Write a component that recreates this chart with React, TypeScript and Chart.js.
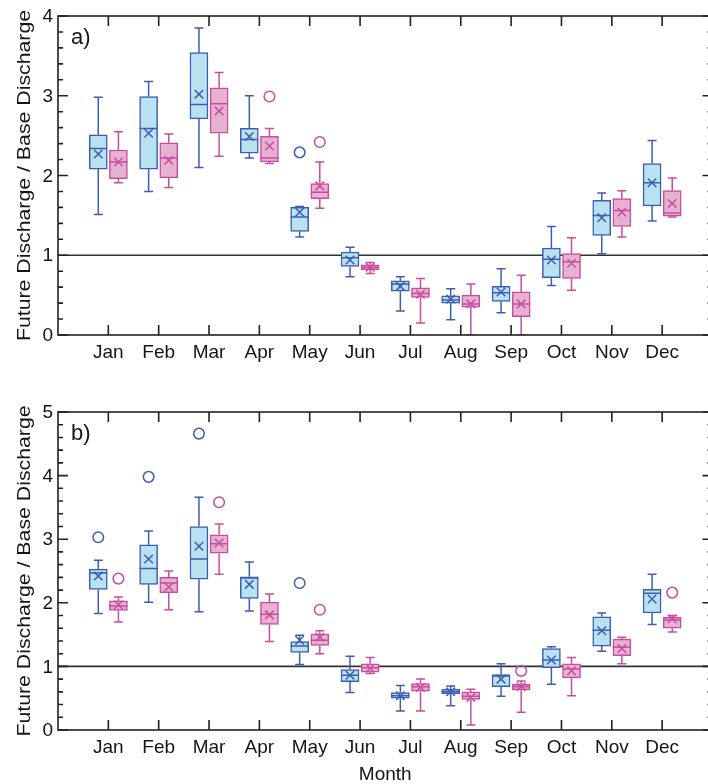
import React, { useEffect, useRef } from "react";
import { Chart, registerables } from "chart.js";
Chart.register(...registerables);

// ---------- categories / ticks ----------
const months = ["Jan", "Feb", "Mar", "Apr", "May", "Jun", "Jul", "Aug", "Sep", "Oct", "Nov", "Dec"];
const monthPos = [1, 2, 3, 4, 5, 6, 7, 8, 9, 10, 11, 12];
const yTicksA = [0, 1, 2, 3, 4];
const yTicksB = [0, 1, 2, 3, 4, 5];
const refLineValue = 1;

// ---------- panel a) blue ----------
const aBlueMin = [1.51, 1.8, 2.1, 2.22, 1.23, 0.73, 0.3, 0.19, 0.28, 0.62, 1.02, 1.43];
const aBlueQ1 = [2.08, 2.08, 2.71, 2.28, 1.3, 0.86, 0.55, 0.4, 0.42, 0.72, 1.25, 1.62];
const aBlueMed = [2.34, 2.59, 2.89, 2.45, 1.48, 0.97, 0.64, 0.44, 0.53, 0.95, 1.5, 1.91];
const aBlueQ3 = [2.51, 2.99, 3.54, 2.59, 1.6, 1.04, 0.68, 0.49, 0.61, 1.09, 1.69, 2.15];
const aBlueMax = [2.98, 3.18, 3.85, 3.0, 1.61, 1.1, 0.73, 0.58, 0.83, 1.36, 1.78, 2.44];
const aBlueMean = [2.27, 2.53, 3.02, 2.49, 1.54, 0.94, 0.61, 0.45, 0.54, 0.94, 1.47, 1.91];
const aBlueOutliers: [number, number][] = [[5, 2.29]];

// ---------- panel a) pink ----------
const aPinkMin = [1.91, 1.85, 2.24, 2.15, 1.59, 0.77, 0.15, 0.0, 0.0, 0.56, 1.23, 1.48];
const aPinkQ1 = [1.96, 1.97, 2.53, 2.17, 1.71, 0.82, 0.47, 0.35, 0.23, 0.71, 1.36, 1.49];
const aPinkMed = [2.17, 2.22, 2.9, 2.22, 1.79, 0.85, 0.52, 0.39, 0.39, 0.92, 1.56, 1.53];
const aPinkQ3 = [2.32, 2.41, 3.1, 2.49, 1.9, 0.88, 0.59, 0.5, 0.54, 1.02, 1.71, 1.81];
const aPinkMax = [2.55, 2.52, 3.29, 2.59, 2.17, 0.91, 0.71, 0.64, 0.75, 1.22, 1.81, 1.97];
const aPinkMean = [2.17, 2.19, 2.81, 2.37, 1.87, 0.85, 0.51, 0.39, 0.39, 0.9, 1.54, 1.65];
const aPinkOutliers: [number, number][] = [[4, 2.99], [5, 2.42]];

// ---------- panel b) blue ----------
const bBlueMin = [1.83, 2.01, 1.86, 1.87, 1.03, 0.59, 0.3, 0.38, 0.53, 0.72, 1.24, 1.66];
const bBlueQ1 = [2.21, 2.29, 2.37, 2.07, 1.22, 0.76, 0.5, 0.57, 0.68, 0.98, 1.32, 1.84];
const bBlueMed = [2.47, 2.54, 2.69, 2.39, 1.32, 0.86, 0.54, 0.6, 0.85, 1.1, 1.57, 2.15];
const bBlueQ3 = [2.53, 2.91, 3.2, 2.41, 1.39, 0.95, 0.59, 0.64, 0.87, 1.28, 1.78, 2.21];
const bBlueMax = [2.67, 3.13, 3.66, 2.64, 1.49, 1.16, 0.7, 0.69, 1.04, 1.31, 1.84, 2.45];
const bBlueMean = [2.42, 2.69, 2.89, 2.29, 1.41, 0.86, 0.54, 0.6, 0.8, 1.1, 1.56, 2.06];
const bBlueOutliers: [number, number][] = [[1, 3.03], [2, 3.98], [3, 4.66], [5, 2.31]];

// ---------- panel b) pink ----------
const bPinkMin = [1.7, 1.89, 2.45, 1.39, 1.2, 0.89, 0.3, 0.08, 0.28, 0.54, 1.04, 1.54];
const bPinkQ1 = [1.88, 2.16, 2.78, 1.66, 1.33, 0.91, 0.61, 0.48, 0.63, 0.82, 1.17, 1.6];
const bPinkMed = [1.95, 2.31, 2.93, 1.82, 1.41, 0.98, 0.68, 0.53, 0.68, 0.96, 1.3, 1.73];
const bPinkQ3 = [2.03, 2.4, 3.07, 2.01, 1.51, 1.04, 0.73, 0.6, 0.72, 1.04, 1.43, 1.77];
const bPinkMax = [2.09, 2.5, 3.24, 2.14, 1.56, 1.14, 0.8, 0.64, 0.77, 1.14, 1.46, 1.8];
const bPinkMean = [1.97, 2.25, 2.94, 1.81, 1.46, 0.97, 0.67, 0.51, 0.68, 0.93, 1.28, 1.75];
const bPinkOutliers: [number, number][] = [[1, 2.38], [3, 3.58], [5, 1.89], [9, 0.93], [12, 2.16]];

// ---------- styles ----------
const BLUE_FILL = "#b8e2ef";
const BLUE_LINE = "#3e5cb3";
const PINK_FILL = "#e7b2d1";
const PINK_LINE = "#c84d9f";
const FRAME = "#222222";
const TEXT = "#151515";
const FONT = '"Liberation Sans", Arial, Helvetica, sans-serif';
const OFFSET = 0.2;

type Series = {
  min: number[]; q1: number[]; med: number[]; q3: number[]; max: number[];
  mean: number[]; out: [number, number][]; fill: string; line: string; off: number;
};

type PanelOpts = {
  label: string; yMax: number; yTicks: number[]; showTitle: boolean;
  top: number; height: number; padTop: number; padBottom: number;
};

function buildDatasets(series: Series[]) {
  const ds: any[] = [];
  series.forEach((s) => {
    ds.push({
      type: "scatter",
      data: s.mean.map((v, i) => ({ x: monthPos[i] + s.off, y: v })),
      pointStyle: "crossRot",
      radius: 6,
      borderColor: s.line,
      borderWidth: 1.5,
      backgroundColor: s.line,
      order: 1,
    });
    ds.push({
      type: "scatter",
      data: s.out.map(([m, v]) => ({ x: m + s.off, y: v })),
      pointStyle: "circle",
      radius: 5.3,
      borderColor: s.line,
      borderWidth: 1.5,
      backgroundColor: "rgba(0,0,0,0)",
      order: 1,
    });
  });
  series.forEach((s) => {
    ds.push({
      type: "bar",
      data: s.q1.map((v, i) => ({ x: monthPos[i] + s.off, y: [v, s.q3[i]] })),
      backgroundColor: s.fill,
      borderColor: s.line,
      borderWidth: 1.5,
      borderSkipped: false,
      grouped: false,
      barPercentage: 1,
      categoryPercentage: 1,
      maxBarThickness: 18,
      order: 5,
    });
  });
  return ds;
}

function makePlugin(series: Series[], p: PanelOpts) {
  return {
    id: "boxExtras",
    beforeDatasetsDraw(chart: any) {
      const { ctx, chartArea: ca, scales } = chart;
      const x = scales.x, y = scales.y;
      ctx.save();
      ctx.strokeStyle = "#333333";
      ctx.lineWidth = 1.6;
      const yr = y.getPixelForValue(refLineValue);
      ctx.beginPath();
      ctx.moveTo(ca.left, yr);
      ctx.lineTo(ca.right, yr);
      ctx.stroke();
      ctx.beginPath();
      ctx.rect(ca.left, ca.top, ca.width, ca.height);
      ctx.clip();
      series.forEach((s) => {
        ctx.strokeStyle = s.line;
        ctx.lineWidth = 1.5;
        ctx.beginPath();
        monthPos.forEach((m, i) => {
          const px = x.getPixelForValue(m + s.off);
          const yMax = y.getPixelForValue(s.max[i]);
          const yMin = y.getPixelForValue(s.min[i]);
          ctx.moveTo(px, yMax);
          ctx.lineTo(px, y.getPixelForValue(s.q3[i]));
          ctx.moveTo(px, y.getPixelForValue(s.q1[i]));
          ctx.lineTo(px, yMin);
          ctx.moveTo(px - 4.5, yMax);
          ctx.lineTo(px + 4.5, yMax);
          ctx.moveTo(px - 4.5, yMin);
          ctx.lineTo(px + 4.5, yMin);
        });
        ctx.stroke();
      });
      ctx.restore();
    },
    afterDatasetsDraw(chart: any) {
      const { ctx, scales } = chart;
      const x = scales.x, y = scales.y;
      ctx.save();
      series.forEach((s) => {
        ctx.strokeStyle = s.line;
        ctx.lineWidth = 1.5;
        ctx.beginPath();
        monthPos.forEach((m, i) => {
          const px = x.getPixelForValue(m + s.off);
          const py = y.getPixelForValue(s.med[i]);
          ctx.moveTo(px - 9, py);
          ctx.lineTo(px + 9, py);
        });
        ctx.stroke();
      });
      ctx.restore();
    },
    afterDraw(chart: any) {
      const { ctx, chartArea: ca, scales } = chart;
      const x = scales.x, y = scales.y;
      ctx.save();
      // frame
      ctx.strokeStyle = FRAME;
      ctx.lineWidth = 1.6;
      ctx.strokeRect(ca.left, ca.top, ca.width, ca.height);
      // x ticks
      ctx.beginPath();
      monthPos.forEach((m) => {
        const px = x.getPixelForValue(m);
        ctx.moveTo(px, ca.top);
        ctx.lineTo(px, ca.top + 10);
        ctx.moveTo(px, ca.bottom);
        ctx.lineTo(px, ca.bottom - 10);
      });
      // y ticks (major + minor)
      const steps = Math.round(p.yMax / 0.2);
      for (let k = 0; k <= steps; k++) {
        const v = k * 0.2;
        const major = k % 5 === 0;
        const len = major ? 10 : 5;
        const py = y.getPixelForValue(v);
        ctx.moveTo(ca.left, py);
        ctx.lineTo(ca.left + len, py);
        ctx.moveTo(ca.right, py);
        ctx.lineTo(ca.right - len, py);
      }
      ctx.stroke();
      // labels
      ctx.fillStyle = TEXT;
      ctx.font = `19px ${FONT}`;
      ctx.textAlign = "right";
      ctx.textBaseline = "middle";
      p.yTicks.forEach((v) => {
        ctx.fillText(String(v), ca.left - 5, y.getPixelForValue(v) + 1);
      });
      ctx.textAlign = "center";
      ctx.textBaseline = "alphabetic";
      months.forEach((lab, i) => {
        ctx.fillText(lab, x.getPixelForValue(monthPos[i]), ca.bottom + 23);
      });
      // panel label
      ctx.textAlign = "left";
      ctx.font = `22px ${FONT}`;
      ctx.fillText(p.label, ca.left + 13, ca.top + 28);
      // y title (slightly stretched along its length, as in the reference)
      ctx.font = `19px ${FONT}`;
      ctx.save();
      ctx.translate(29.5, (ca.top + ca.bottom) / 2);
      ctx.rotate(-Math.PI / 2);
      ctx.scale(1.12, 1);
      ctx.textAlign = "center";
      ctx.fillText("Future Discharge / Base Discharge", 0, 0);
      ctx.restore();
      if (p.showTitle) {
        ctx.textAlign = "center";
        ctx.fillText("Month", (ca.left + ca.right) / 2, ca.bottom + 50);
      }
      ctx.restore();
    },
  };
}

function Panel({ series, p }: { series: Series[]; p: PanelOpts }) {
  const ref = useRef<HTMLCanvasElement | null>(null);
  useEffect(() => {
    if (!ref.current) return;
    const chart = new Chart(ref.current, {
      type: "bar",
      data: { datasets: buildDatasets(series) },
      options: {
        responsive: false,
        animation: false,
        devicePixelRatio: 1,
        events: [],
        layout: { padding: { left: 58, right: 2, top: p.padTop, bottom: p.padBottom } },
        plugins: { legend: { display: false }, tooltip: { enabled: false } },
        scales: {
          x: { type: "linear", min: 0, max: 13, display: false, offset: false, ticks: { stepSize: 1 } },
          y: { type: "linear", min: 0, max: p.yMax, display: false, beginAtZero: true },
        },
      } as any,
      plugins: [makePlugin(series, p) as any],
    });
    return () => chart.destroy();
  }, []);
  return (
    <canvas
      ref={ref}
      width={720}
      height={p.height}
      style={{ position: "absolute", left: 0, top: p.top, width: 720, height: p.height, display: "block" }}
    />
  );
}

const seriesA: Series[] = [
  { min: aBlueMin, q1: aBlueQ1, med: aBlueMed, q3: aBlueQ3, max: aBlueMax, mean: aBlueMean, out: aBlueOutliers, fill: BLUE_FILL, line: BLUE_LINE, off: -OFFSET },
  { min: aPinkMin, q1: aPinkQ1, med: aPinkMed, q3: aPinkQ3, max: aPinkMax, mean: aPinkMean, out: aPinkOutliers, fill: PINK_FILL, line: PINK_LINE, off: OFFSET },
];
const seriesB: Series[] = [
  { min: bBlueMin, q1: bBlueQ1, med: bBlueMed, q3: bBlueQ3, max: bBlueMax, mean: bBlueMean, out: bBlueOutliers, fill: BLUE_FILL, line: BLUE_LINE, off: -OFFSET },
  { min: bPinkMin, q1: bPinkQ1, med: bPinkMed, q3: bPinkQ3, max: bPinkMax, mean: bPinkMean, out: bPinkOutliers, fill: PINK_FILL, line: PINK_LINE, off: OFFSET },
];

export default function App() {
  return (
    <div style={{ position: "absolute", left: 0, top: 0, width: 708, height: 784, overflow: "hidden", background: "#fff" }}>
      <Panel series={seriesA} p={{ label: "a)", yMax: 4, yTicks: yTicksA, showTitle: false, top: 0, height: 380, padTop: 16, padBottom: 45 }} />
      <Panel series={seriesB} p={{ label: "b)", yMax: 5, yTicks: yTicksB, showTitle: true, top: 380, height: 404, padTop: 32, padBottom: 54 }} />
    </div>
  );
}
